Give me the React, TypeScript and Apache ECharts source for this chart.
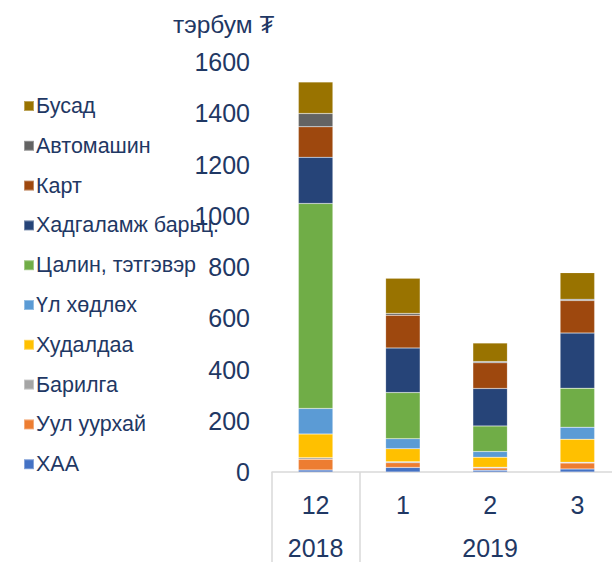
import React, { useEffect, useRef } from "react";
import * as echarts from "echarts";

const months = ["12", "1", "2", "3"];
const years = ["2018", "2019"];
const yearSpans = [[0, 0], [1, 3]];

const seriesNames = [
  "ХАА",
  "Уул уурхай",
  "Барилга",
  "Худалдаа",
  "Үл хөдлөх",
  "Цалин, тэтгэвэр",
  "Хадгаламж барьц.",
  "Карт",
  "Автомашин",
  "Бусад",
];
const seriesColors = [
  "#4472C4",
  "#ED7D31",
  "#A5A5A5",
  "#FFC000",
  "#5B9BD5",
  "#70AD47",
  "#264478",
  "#9E480E",
  "#636363",
  "#997300",
];

const khaa = [8, 18, 7, 12];
const uulUurkhai = [42, 18, 9, 23];
const barilga = [6, 4, 3, 3];
const khudaldaa = [92, 51, 39, 90];
const ulKhodlokh = [100, 39, 22, 47];
const tsalin = [800, 180, 100, 152];
const khadgalamj = [180, 174, 146, 215];
const kart = [119, 128, 100, 127];
const avtomashin = [52, 7, 5, 5];
const busad = [123, 137, 72, 104];

const seriesValues = [
  khaa,
  uulUurkhai,
  barilga,
  khudaldaa,
  ulKhodlokh,
  tsalin,
  khadgalamj,
  kart,
  avtomashin,
  busad,
];

const yTicks = { min: 0, max: 1600, interval: 200 };
const unitLabel = "тэрбум ₮";

const FONT = "'Liberation Sans', Arial, sans-serif";
const TEXT = "#1F3864";
const NUM_SIZE = 25;

export default function App() {
  const ref = useRef<HTMLDivElement>(null);
  useEffect(() => {
    if (!ref.current) return;
    const chart = echarts.init(ref.current, null, { renderer: "svg" });
    const option: any = {
      animation: false,
      textStyle: { fontFamily: FONT },
      title: {
        text: unitLabel,
        left: 168,
        top: 7,
        textStyle: { fontFamily: FONT, fontSize: 24.5, fontWeight: "normal", color: TEXT },
      },
      legend: {
        orient: "vertical",
        left: 18,
        top: 89,
        itemWidth: 10,
        itemHeight: 10,
        itemGap: 15.8,
        icon: "rect",
        data: [...seriesNames].reverse(),
        textStyle: { fontFamily: FONT, fontSize: 21.5, color: TEXT, lineHeight: 24, padding: [0, 0, 0, -3] },
      },
      grid: { left: 272, top: 62, width: 349, height: 410 },
      xAxis: {
        type: "category",
        data: months,
        axisLine: { show: true, lineStyle: { color: "#D9D9D9", width: 1.5 } },
        axisTick: {
          show: true,
          interval: (i: number) => i === 0 || i === 1,
          length: 92,
          lineStyle: { color: "#D9D9D9", width: 1.5 },
        },
        axisLabel: { fontFamily: FONT, fontSize: NUM_SIZE, color: TEXT, margin: 20 },
      },
      yAxis: {
        type: "value",
        min: yTicks.min,
        max: yTicks.max,
        interval: yTicks.interval,
        splitLine: { show: false },
        axisLine: { show: false },
        axisTick: { show: false },
        axisLabel: {
          fontFamily: FONT,
          fontSize: NUM_SIZE,
          color: TEXT,
          margin: 22,
          formatter: (v: number) => String(v),
        },
      },
      series: seriesNames.map((name, i) => ({
        name,
        type: "bar",
        stack: "total",
        barWidth: 34.5,
        data: seriesValues[i],
        itemStyle: { color: seriesColors[i], borderColor: "rgba(255,255,255,0.35)", borderWidth: 0.5 },
      })),
    };
    chart.setOption(option);
    const yearY = 548;
    const graphics = years.map((y, k) => {
      const a = chart.convertToPixel({ xAxisIndex: 0 }, months[yearSpans[k][0]]) as number;
      const b = chart.convertToPixel({ xAxisIndex: 0 }, months[yearSpans[k][1]]) as number;
      return {
        type: "text",
        x: (a + b) / 2,
        y: yearY,
        style: {
          text: y,
          fontFamily: FONT,
          fontSize: NUM_SIZE,
          fill: TEXT,
          align: "center",
          verticalAlign: "middle",
        },
      };
    });
    chart.setOption({ graphic: graphics });
    return () => chart.dispose();
  }, []);
  return (
    <div
      ref={ref}
      style={{ position: "fixed", left: 0, top: 0, width: 640, height: 562, background: "#fff" }}
    />
  );
}
